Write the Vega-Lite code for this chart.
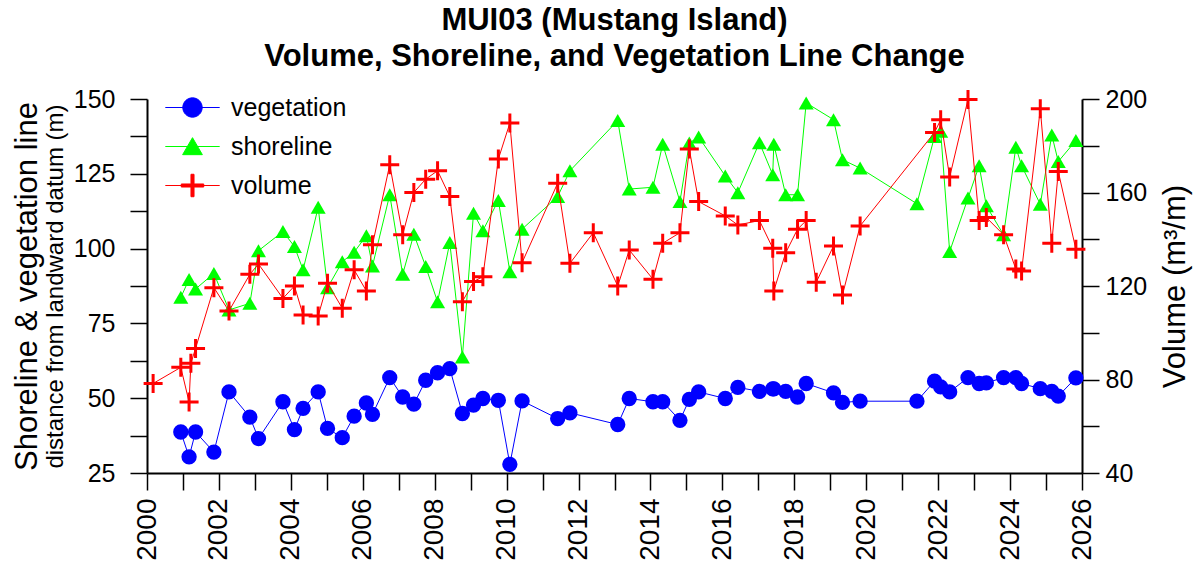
{
  "$schema": "https://vega.github.io/schema/vega-lite/v6.json",
  "width": 935,
  "height": 374,
  "autosize": "none",
  "padding": {"left": 147, "top": 99, "right": 120, "bottom": 102},
  "config": {
    "font": "Liberation Sans",
    "view": {"stroke": null},
    "axis": {"grid": false, "labelColor": "black", "titleColor": "black", "tickColor": "black", "domainColor": "black", "labelFont": "Liberation Sans", "titleFont": "Liberation Sans", "titleFontWeight": "normal", "domainWidth": 2, "tickWidth": 1.5, "tickSize": 17, "labelFontSize": 25},
    "legend": {"labelFont": "Liberation Sans", "labelColor": "black"}
  },
  "title": {
    "text": ["MUI03 (Mustang Island)", "Volume, Shoreline, and Vegetation Line Change"],
    "fontSize": 31, "fontWeight": "bold", "font": "Liberation Sans", "color": "black",
    "lineHeight": 36, "anchor": "middle", "frame": "group", "offset": -20, "baseline": "bottom"
  },
  "datasets": {
    "veg": [
      {"t":2000.94,"v":38.7},{"t":2001.17,"v":30.4},{"t":2001.35,"v":38.7},{"t":2001.86,"v":32.0},{"t":2002.28,"v":52.1},{"t":2002.86,"v":43.7},{"t":2003.10,"v":36.5},{"t":2003.78,"v":48.8},{"t":2004.10,"v":39.5},{"t":2004.34,"v":46.6},{"t":2004.76,"v":52.1},{"t":2005.02,"v":39.9},{"t":2005.43,"v":36.8},{"t":2005.76,"v":44.0},{"t":2006.10,"v":48.4},{"t":2006.27,"v":44.6},{"t":2006.75,"v":56.9},{"t":2007.11,"v":50.4},{"t":2007.42,"v":48.0},{"t":2007.75,"v":56.0},{"t":2008.08,"v":58.5},{"t":2008.42,"v":59.9},{"t":2008.77,"v":44.9},{"t":2009.08,"v":47.7},{"t":2009.34,"v":49.9},{"t":2009.77,"v":49.3},{"t":2010.09,"v":27.9},{"t":2010.43,"v":49.1},{"t":2011.42,"v":43.2},{"t":2011.76,"v":45.1},{"t":2013.09,"v":41.2},{"t":2013.41,"v":49.9},{"t":2014.07,"v":48.8},{"t":2014.34,"v":48.8},{"t":2014.82,"v":42.6},{"t":2015.08,"v":49.6},{"t":2015.34,"v":52.1},{"t":2016.08,"v":49.9},{"t":2016.43,"v":53.6},{"t":2017.03,"v":52.3},{"t":2017.40,"v":53.1},{"t":2017.43,"v":53.1},{"t":2017.76,"v":52.3},{"t":2018.09,"v":50.4},{"t":2018.33,"v":54.9},{"t":2019.09,"v":51.8},{"t":2019.34,"v":48.6},{"t":2019.83,"v":49.0},{"t":2021.41,"v":49.0},{"t":2021.90,"v":55.7},{"t":2022.07,"v":53.8},{"t":2022.32,"v":52.1},{"t":2022.83,"v":56.9},{"t":2023.14,"v":54.9},{"t":2023.34,"v":55.1},{"t":2023.82,"v":56.9},{"t":2024.16,"v":56.9},{"t":2024.32,"v":54.9},{"t":2024.84,"v":53.2},{"t":2025.16,"v":52.3},{"t":2025.34,"v":50.7},{"t":2025.83,"v":56.8}
    ],
    "shore": [
      {"t":2000.94,"v":83.7},{"t":2001.17,"v":89.7},{"t":2001.35,"v":86.5},{"t":2001.86,"v":91.7},{"t":2002.28,"v":79.5},{"t":2002.86,"v":81.7},{"t":2003.10,"v":99.3},{"t":2003.78,"v":105.7},{"t":2004.10,"v":100.7},{"t":2004.34,"v":92.9},{"t":2004.76,"v":113.8},{"t":2005.02,"v":86.9},{"t":2005.43,"v":95.6},{"t":2005.76,"v":98.8},{"t":2006.10,"v":104.3},{"t":2006.27,"v":94.2},{"t":2006.75,"v":118.0},{"t":2007.11,"v":91.4},{"t":2007.42,"v":104.8},{"t":2007.75,"v":94.0},{"t":2008.08,"v":82.2},{"t":2008.42,"v":102.0},{"t":2008.77,"v":63.8},{"t":2009.08,"v":111.8},{"t":2009.34,"v":106.0},{"t":2009.77,"v":116.1},{"t":2010.09,"v":92.3},{"t":2010.43,"v":106.5},{"t":2011.42,"v":117.4},{"t":2011.76,"v":126.0},{"t":2013.09,"v":142.8},{"t":2013.41,"v":119.9},{"t":2014.07,"v":120.5},{"t":2014.34,"v":134.9},{"t":2014.82,"v":115.7},{"t":2015.08,"v":135.3},{"t":2015.34,"v":137.3},{"t":2016.08,"v":124.3},{"t":2016.43,"v":118.7},{"t":2017.03,"v":135.4},{"t":2017.40,"v":124.7},{"t":2017.43,"v":134.9},{"t":2017.76,"v":118.0},{"t":2018.09,"v":118.0},{"t":2018.33,"v":148.7},{"t":2019.09,"v":143.1},{"t":2019.34,"v":129.7},{"t":2019.83,"v":126.9},{"t":2021.41,"v":115.0},{"t":2021.90,"v":137.5},{"t":2022.07,"v":139.2},{"t":2022.32,"v":99.0},{"t":2022.83,"v":116.9},{"t":2023.14,"v":127.7},{"t":2023.34,"v":114.3},{"t":2023.82,"v":104.6},{"t":2024.16,"v":133.9},{"t":2024.32,"v":127.7},{"t":2024.84,"v":114.8},{"t":2025.16,"v":138.0},{"t":2025.34,"v":129.1},{"t":2025.83,"v":136.1}
    ],
    "vol": [
      {"t":2000.17,"v":78.3},{"t":2000.94,"v":85.2},{"t":2001.17,"v":70.4},{"t":2001.22,"v":86.9},{"t":2001.35,"v":93.3},{"t":2001.86,"v":119.3},{"t":2002.28,"v":109.3},{"t":2002.86,"v":125.0},{"t":2003.10,"v":129.4},{"t":2003.78,"v":114.7},{"t":2004.10,"v":120.0},{"t":2004.34,"v":107.6},{"t":2004.76,"v":107.2},{"t":2005.02,"v":121.2},{"t":2005.43,"v":110.5},{"t":2005.76,"v":126.9},{"t":2006.10,"v":117.9},{"t":2006.27,"v":137.6},{"t":2006.75,"v":171.9},{"t":2007.11,"v":141.9},{"t":2007.42,"v":160.0},{"t":2007.75,"v":165.7},{"t":2008.08,"v":169.3},{"t":2008.42,"v":158.3},{"t":2008.77,"v":113.3},{"t":2009.08,"v":121.9},{"t":2009.34,"v":124.0},{"t":2009.77,"v":174.3},{"t":2010.09,"v":189.7},{"t":2010.43,"v":130.0},{"t":2011.42,"v":164.0},{"t":2011.76,"v":129.7},{"t":2012.41,"v":142.8},{"t":2013.09,"v":120.0},{"t":2013.41,"v":135.4},{"t":2014.07,"v":122.9},{"t":2014.34,"v":138.3},{"t":2014.82,"v":142.8},{"t":2015.08,"v":178.6},{"t":2015.34,"v":156.1},{"t":2016.08,"v":150.0},{"t":2016.43,"v":146.1},{"t":2017.03,"v":148.0},{"t":2017.40,"v":136.2},{"t":2017.43,"v":117.9},{"t":2017.76,"v":134.2},{"t":2018.09,"v":144.3},{"t":2018.33,"v":148.0},{"t":2018.61,"v":121.6},{"t":2019.09,"v":137.1},{"t":2019.34,"v":116.2},{"t":2019.83,"v":145.7},{"t":2021.90,"v":185.7},{"t":2022.07,"v":191.1},{"t":2022.32,"v":166.6},{"t":2022.83,"v":199.8},{"t":2023.14,"v":148.0},{"t":2023.34,"v":149.3},{"t":2023.82,"v":141.9},{"t":2024.16,"v":127.3},{"t":2024.32,"v":126.4},{"t":2024.84,"v":195.8},{"t":2025.16,"v":138.3},{"t":2025.34,"v":169.0},{"t":2025.83,"v":135.7}
    ]
  },
  "encoding": {
    "x": {"field": "t", "type": "quantitative", "scale": {"domain": [2000, 2026], "nice": false, "zero": false},
      "axis": {"values": [2000,2001,2002,2003,2004,2005,2006,2007,2008,2009,2010,2011,2012,2013,2014,2015,2016,2017,2018,2019,2020,2021,2022,2023,2024,2025,2026],
        "format": "d", "labelExpr": "datum.value % 2 === 0 ? datum.label : ''", "labelAngle": 270, "labelAlign": "right", "labelBaseline": "middle",
        "labelPadding": 8, "labelFontSize": 28, "labelFlush": false, "labelOverlap": false, "title": null}}
  },
  "layer": [
    {
      "data": {"name": "veg"},
      "encoding": {
        "y": {"field": "v", "type": "quantitative", "scale": {"domain": [25, 150], "nice": false, "zero": false},
          "axis": {"orient": "left", "values": [25,37.5,50,62.5,75,87.5,100,112.5,125,137.5,150],
            "labelExpr": "datum.value % 25 === 0 ? datum.label : ''", "labelPadding": 15, "labelOverlap": false,
            "title": "distance from landward datum (m)", "titleFontSize": 24, "titlePadding": 6}}
      },
      "layer": [
        {"mark": {"type": "line", "strokeWidth": 1, "color": "#0000ff"}},
        {"mark": {"type": "point", "shape": "circle", "filled": true, "size": 235, "opacity": 1, "strokeWidth": 0, "color": "#0000ff"}},
        {"mark": {"type": "point", "filled": true, "opacity": 0},
          "encoding": {
            "fill": {"datum": "vegetation", "type": "nominal",
              "scale": {"domain": ["vegetation", "shoreline", "volume"], "range": ["#0000ff", "#00ff00", "#ff0000"]},
              "legend": {"orient": "none", "legendX": 28, "legendY": -9, "title": null, "labelFontSize": 25, "labelOffset": 21, "symbolSize": 1156, "rowPadding": 8, "padding": 0, "symbolStrokeWidth": 1, "symbolOpacity": 1}},
            "stroke": {"datum": "vegetation", "type": "nominal",
              "scale": {"domain": ["vegetation", "shoreline", "volume"], "range": ["#0000ff", "#00ff00", "#ff0000"]},
              "legend": {"orient": "none", "legendX": 28, "legendY": -9, "title": null, "labelFontSize": 25, "labelOffset": 21, "symbolSize": 1156, "rowPadding": 8, "padding": 0, "symbolStrokeWidth": 1, "symbolOpacity": 1}},
            "shape": {"datum": "vegetation", "type": "nominal",
              "scale": {"domain": ["vegetation", "shoreline", "volume"], "range": [
                "M-1.6,0H1.6M0.57,0A0.57,0.57 0 1 1 -0.57,0A0.57,0.57 0 1 1 0.57,0Z",
                "M-1.6,0H1.6M-0.58,0.48L0,-0.52L0.58,0.48Z",
                "M-1.6,0H1.6M-0.09,-0.66H0.09V-0.09H0.66V0.09H0.09V0.66H-0.09V0.09H-0.66V-0.09H-0.09Z"]},
              "legend": {"orient": "none", "legendX": 28, "legendY": -9, "title": null, "labelFontSize": 25, "labelOffset": 21, "symbolSize": 1156, "rowPadding": 8, "padding": 0, "symbolStrokeWidth": 1, "symbolOpacity": 1}}
          }}
      ]
    },
    {
      "data": {"name": "shore"},
      "encoding": {
        "y": {"field": "v", "type": "quantitative", "scale": {"domain": [25, 150], "nice": false, "zero": false},
          "axis": {"orient": "left", "labels": false, "ticks": false, "domain": false, "grid": false, "minExtent": 0, "maxExtent": 0,
            "title": "Shoreline & vegetation line", "titleFontSize": 31, "titlePadding": 104}}
      },
      "layer": [
        {"mark": {"type": "line", "strokeWidth": 1, "color": "#00ff00"}},
        {"mark": {"type": "point", "shape": "triangle-up", "filled": true, "size": 225, "opacity": 1, "strokeWidth": 0, "color": "#00ff00"}}
      ]
    },
    {
      "data": {"name": "vol"},
      "encoding": {
        "y": {"field": "v", "type": "quantitative", "scale": {"domain": [40, 200], "nice": false, "zero": false},
          "axis": {"orient": "right", "values": [40,60,80,100,120,140,160,180,200],
            "labelExpr": "datum.value % 40 === 0 ? datum.label : ''", "labelPadding": 6, "labelOverlap": false,
            "title": "Volume (m³/m)", "titleFontSize": 31, "titleAngle": 270, "titleBaseline": "top", "titlePadding": 14}}
      },
      "layer": [
        {"mark": {"type": "line", "strokeWidth": 1, "color": "#ff0000"}},
        {"mark": {"type": "point", "shape": "M-1,0H1M0,-1V1", "filled": false, "size": 361, "opacity": 1, "strokeWidth": 3, "color": "#ff0000"}}
      ]
    }
  ],
  "resolve": {"scale": {"y": "independent"}}
}
